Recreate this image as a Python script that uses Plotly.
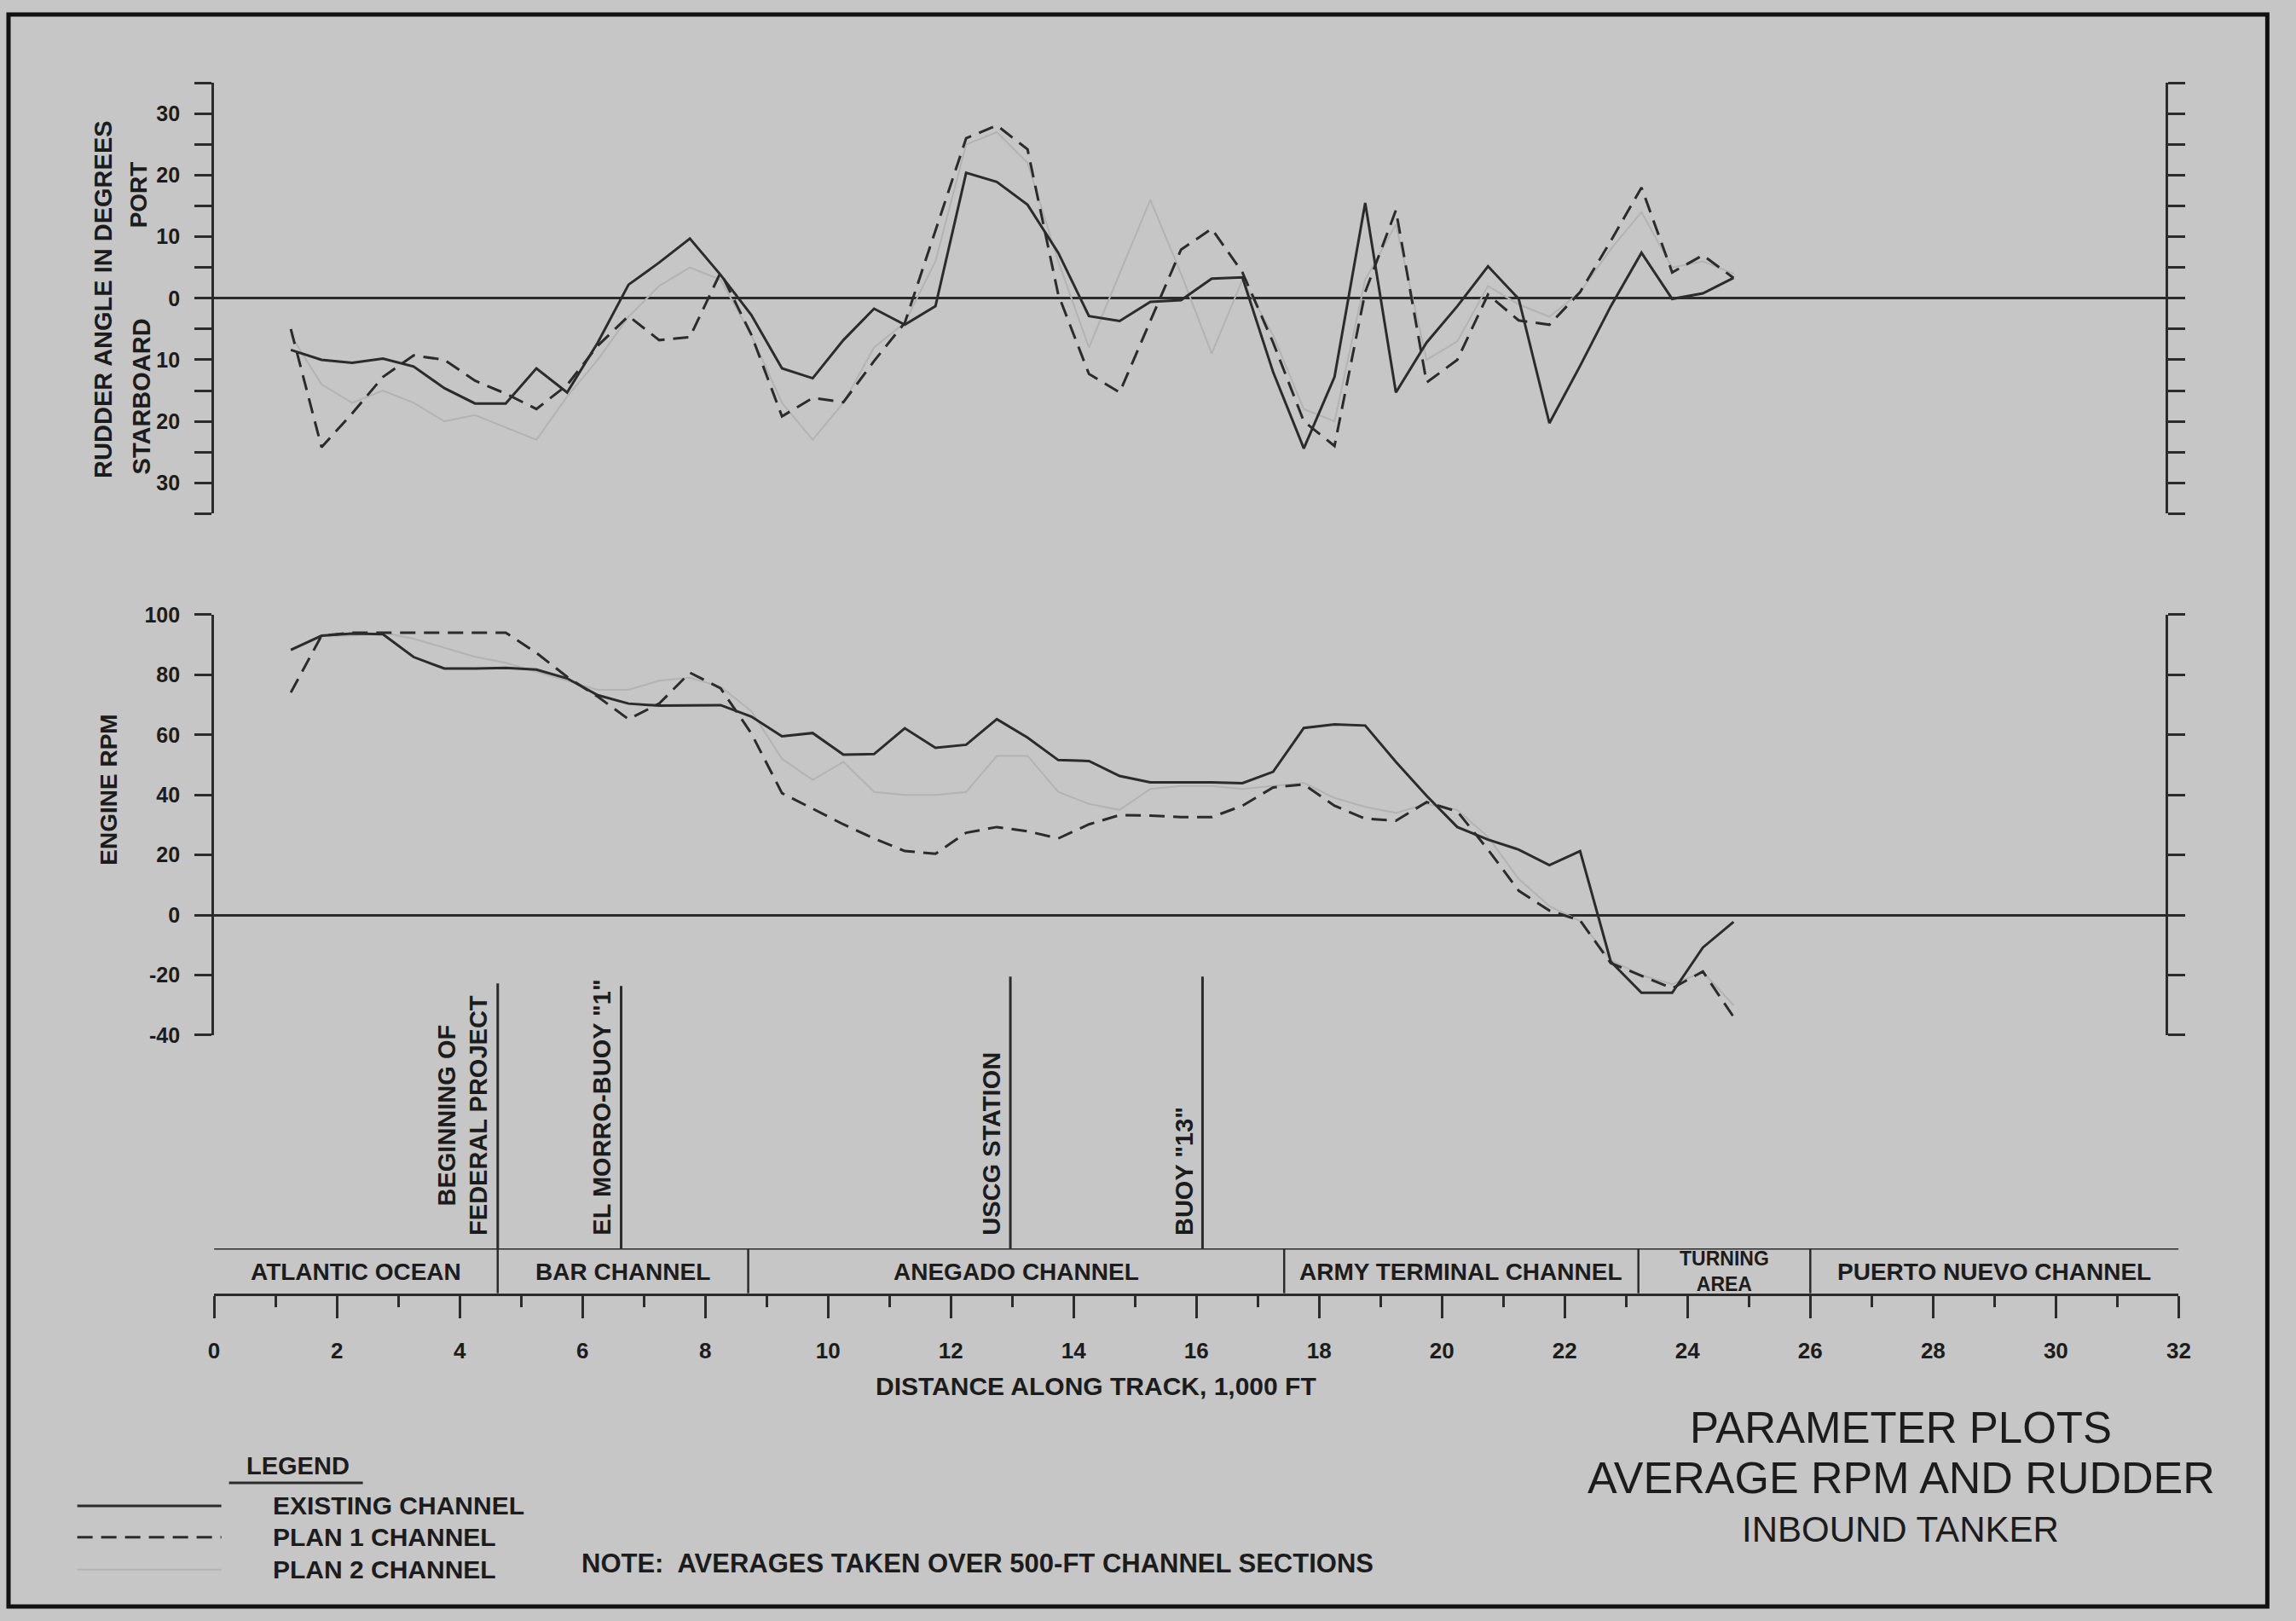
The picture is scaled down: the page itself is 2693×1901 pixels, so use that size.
import plotly.graph_objects as go

# ---------------- data ----------------
DIST = [1.25, 1.75, 2.25, 2.75, 3.25, 3.75, 4.25, 4.75, 5.25, 5.75, 6.25, 6.75,
        7.25, 7.75, 8.25, 8.75, 9.25, 9.75, 10.25, 10.75, 11.25, 11.75, 12.25, 12.75,
        13.25, 13.75, 14.25, 14.75, 15.25, 15.75, 16.25, 16.75, 17.25, 17.75, 18.25, 18.75,
        19.25, 19.75, 20.25, 20.75, 21.25, 21.75, 22.25, 22.75, 23.25, 23.75, 24.25, 24.75]

RUDDER_EXISTING = [-8.4, -10.0, -10.5, -9.8, -11.1, -14.6, -17.1, -17.1, -11.4, -15.3, -7.2, 2.2,
                   5.8, 9.7, 3.8, -2.7, -11.4, -13.0, -6.8, -1.7, -4.3, -1.3, 20.4, 18.9,
                   15.2, 7.4, -2.9, -3.7, -0.6, -0.3, 3.2, 3.4, -12.0, -24.4, -12.8, 15.5,
                   -15.3, -7.2, -1.3, 5.2, -0.1, -20.3, -11.0, -1.3, 7.4, -0.1, 0.8, 3.3]
RUDDER_PLAN1 = [-5.0, -24.2, -18.7, -12.8, -9.3, -10.0, -13.4, -15.5, -18.0, -14.1, -7.7, -2.9,
                -6.8, -6.3, 4.2, -5.9, -19.2, -16.2, -16.9, -10.2, -4.0, 11.0, 26.0, 28.1,
                24.2, 0.6, -12.3, -15.3, -3.6, 7.9, 11.3, 4.2, -7.2, -20.0, -24.0, 1.0,
                14.3, -13.7, -10.0, 0.6, -3.6, -4.3, 1.0, 9.3, 18.0, 4.2, 7.0, 3.3]
RUDDER_PLAN2 = [-6, -14, -17, -15, -17, -20, -19, -21, -23, -16, -10, -3,
                2, 5, 3, -6, -17, -23, -17, -8, -4, 6, 25, 27,
                22, 6, -8, 4, 16, 4, -9, 3, -6, -18, -20, 3,
                12, -10, -7, 2, -1, -3, 1, 8, 14, 5, 6, 4]

RPM_EXISTING = [88.3, 93.0, 93.7, 93.5, 85.9, 82.1, 82.1, 82.3, 81.7, 78.8, 73.2, 70.4,
                69.7, 69.9, 69.9, 66.1, 59.5, 60.6, 53.4, 53.6, 62.2, 55.7, 56.7, 65.2,
                59.1, 51.6, 51.3, 46.3, 44.2, 44.2, 44.2, 43.9, 47.7, 62.3, 63.5, 63.1,
                51.0, 39.7, 29.3, 25.1, 21.8, 16.6, 21.3, -15.5, -25.9, -25.9, -10.8, -2.3]
RPM_PLAN1 = [74.1, 93.0, 94.0, 94.0, 94.0, 94.0, 94.0, 94.0, 87.3, 79.3, 72.7, 65.2,
             70.4, 80.7, 75.5, 60.5, 40.6, 35.4, 30.2, 25.5, 21.3, 20.4, 27.4, 29.3,
             27.9, 25.5, 30.2, 33.3, 33.1, 32.6, 32.6, 36.4, 42.5, 43.5, 36.4, 32.1,
             31.4, 37.6, 34.5, 21.8, 8.1, 1.5, -1.8, -16.0, -20.2, -24.4, -18.8, -33.9]
RPM_PLAN2 = [88, 93, 93, 94, 92, 89, 86, 84, 81, 78, 75, 75,
             78, 79, 76, 68, 52, 45, 51, 41, 40, 40, 41, 53,
             53, 41, 37, 35, 42, 43, 43, 42, 43, 44, 39, 36,
             34, 37, 35, 26, 12, 3, -2, -15, -20, -23, -19, -30]

SERIES_NAMES = ["EXISTING CHANNEL", "PLAN 1 CHANNEL", "PLAN 2 CHANNEL"]

X_TICKS = [0, 2, 4, 6, 8, 10, 12, 14, 16, 18, 20, 22, 24, 26, 28, 30, 32]
RUDDER_TICKVALS = [-35, -30, -25, -20, -15, -10, -5, 0, 5, 10, 15, 20, 25, 30, 35]
RUDDER_TICKTEXT = ["", "30", "", "20", "", "10", "", "0", "", "10", "", "20", "", "30", ""]
RPM_TICKVALS = [-40, -20, 0, 20, 40, 60, 80, 100]
RPM_TICKTEXT = ["-40", "-20", "0", "20", "40", "60", "80", "100"]

CHANNEL_BOUNDS = [0, 4.62, 8.7, 17.43, 23.2, 26.0, 32]
CHANNEL_NAMES = ["ATLANTIC OCEAN", "BAR CHANNEL", "ANEGADO CHANNEL",
                 "ARMY TERMINAL CHANNEL", "TURNING<br>AREA", "PUERTO NUEVO CHANNEL"]
LANDMARK_X = [4.62, 6.63, 12.97, 16.1]
LANDMARK_TEXT = ["BEGINNING OF<br>FEDERAL PROJECT", 'EL MORRO-BUOY "1"', "USCG STATION", 'BUOY "13"']

# ---------------- styling ----------------
W, H = 2693, 1901
BG = "#c6c6c6"
INK = "#2b2b2b"
TXT = "#1c1c1c"
PLAN2_COL = "#b3b3b3"
BOLD = "Liberation Sans, Arial, sans-serif"
REG = "Liberation Sans, Arial, sans-serif"

# small compensation for the rendering scale observed in the page capture
SX, SY = 0.9923, 0.989


def px(x):
    f = (x - W / 2) / SX + W / 2
    return f / W


def py(y):
    f = (y - H / 2) / SY + H / 2
    return 1 - f / H


def bfont(size):
    return dict(family=BOLD, size=size, color=TXT, weight="bold")


X_L = 254.5
X_R_BAND = 2559
X_R_PANEL = 2544
PANEL_XMAX = 32 * (px(X_R_PANEL) - px(X_L)) / (px(X_R_BAND) - px(X_L))

fig = go.Figure()

styles = [dict(color=INK, width=3), dict(color=INK, width=3, dash="18px,10px"),
          dict(color=PLAN2_COL, width=2)]
rudder = [RUDDER_EXISTING, RUDDER_PLAN1, RUDDER_PLAN2]
rpm = [RPM_EXISTING, RPM_PLAN1, RPM_PLAN2]
for i in (2, 1, 0):
    fig.add_trace(go.Scatter(x=DIST, y=rudder[i], xaxis="x2", yaxis="y2", mode="lines",
                             line=styles[i], name=SERIES_NAMES[i], showlegend=False))
    fig.add_trace(go.Scatter(x=DIST, y=rpm[i], xaxis="x3", yaxis="y3", mode="lines",
                             line=styles[i], name=SERIES_NAMES[i], showlegend=False))

yaxis_common = dict(showline=True, linewidth=3, linecolor=INK, mirror="ticks",
                    ticks="outside", ticklen=20, tickwidth=3, tickcolor=INK,
                    showgrid=False, zeroline=True, zerolinewidth=3, zerolinecolor=INK,
                    tickfont=bfont(25), ticklabelstandoff=12)

fig.update_layout(
    width=W, height=H, autosize=False,
    margin=dict(l=0, r=0, t=0, b=0, pad=0),
    paper_bgcolor=BG, plot_bgcolor="rgba(0,0,0,0)",
    showlegend=False,
    xaxis=dict(domain=[px(X_L), px(X_R_BAND)], range=[0, 32], anchor="y",
               showline=True, linewidth=3, linecolor=INK,
               ticks="outside", ticklen=26, tickwidth=3, tickcolor=INK,
               tickvals=X_TICKS, ticktext=[str(v) for v in X_TICKS],
               minor=dict(ticks="outside", ticklen=13, tickwidth=3, tickcolor=INK,
                          dtick=1, tick0=0, showgrid=False),
               showgrid=False, zeroline=False, tickfont=bfont(26), ticklabelstandoff=16),
    yaxis=dict(domain=[py(1519), py(1466)], range=[0, 1], anchor="x", visible=False),
    xaxis2=dict(domain=[px(X_L), px(X_R_PANEL)], range=[0, PANEL_XMAX], anchor="y2",
                visible=False),
    yaxis2=dict(domain=[py(601), py(94)], range=[-35, 35], anchor="x2",
                tickvals=RUDDER_TICKVALS, ticktext=RUDDER_TICKTEXT, **yaxis_common),
    xaxis3=dict(domain=[px(X_L), px(X_R_PANEL)], range=[0, PANEL_XMAX], anchor="y3",
                visible=False),
    yaxis3=dict(domain=[py(1215), py(720)], range=[-40, 100], anchor="x3",
                tickvals=RPM_TICKVALS, ticktext=RPM_TICKTEXT, **yaxis_common),
)

shapes = []
ann = []

# outer border (kept inside the drawable page)
bx0, bx1 = max(px(13), 3 / W), min(px(2663), 1 - 3 / W)
by0, by1 = max(py(1896), 3 / H), min(py(10), 1 - 3 / H)
shapes.append(dict(type="rect", xref="paper", yref="paper", x0=bx0, x1=bx1,
                   y0=by0, y1=by1, line=dict(color="#111111", width=5)))

# channel band
shapes.append(dict(type="line", xref="x", yref="y", x0=0, x1=32, y0=1, y1=1,
                   line=dict(color=INK, width=3)))
for b in CHANNEL_BOUNDS[1:-1]:
    shapes.append(dict(type="line", xref="x", yref="y", x0=b, x1=b, y0=0, y1=1,
                       line=dict(color=INK, width=2.5)))
for i, name in enumerate(CHANNEL_NAMES):
    cx = (CHANNEL_BOUNDS[i] + CHANNEL_BOUNDS[i + 1]) / 2
    if "<br>" in name:
        ann.append(dict(x=cx, xref="x", y=py(1493), yref="paper", text=name, showarrow=False,
                        xanchor="center", yanchor="middle", align="center", font=bfont(23)))
    else:
        ann.append(dict(x=cx, xref="x", y=py(1494), yref="paper", text=name, showarrow=False,
                        xanchor="center", yanchor="middle", font=bfont(28)))

# landmark lines
LANDMARK_TOP = [1154, 1157, 1146, 1146]
for lx, lt, top in zip(LANDMARK_X, LANDMARK_TEXT, LANDMARK_TOP):
    shapes.append(dict(type="line", xref="x", yref="paper", x0=lx, x1=lx,
                       y0=py(1466), y1=py(top), line=dict(color=INK, width=3)))
    ann.append(dict(x=lx, xref="x", y=py(1453), yref="paper", text=lt, showarrow=False,
                    textangle=-90, xanchor="right", yanchor="bottom", xshift=-4,
                    align="center", font=bfont(29)))

# axis titles
ann.append(dict(x=px(125), y=py(349), xref="paper", yref="paper", text="RUDDER ANGLE IN DEGREES",
                textangle=-90, showarrow=False, xanchor="center", yanchor="middle", font=bfont(29)))
ann.append(dict(x=px(166), y=py(226), xref="paper", yref="paper", text="PORT",
                textangle=-90, showarrow=False, xanchor="center", yanchor="middle", font=bfont(28)))
ann.append(dict(x=px(169), y=py(463), xref="paper", yref="paper", text="STARBOARD",
                textangle=-90, showarrow=False, xanchor="center", yanchor="middle", font=bfont(29)))
ann.append(dict(x=px(130), y=py(926), xref="paper", yref="paper", text="ENGINE RPM",
                textangle=-90, showarrow=False, xanchor="center", yanchor="middle", font=bfont(28)))
ann.append(dict(x=px(1289), y=py(1628), xref="paper", yref="paper",
                text="DISTANCE ALONG TRACK, 1,000 FT", showarrow=False,
                xanchor="center", yanchor="middle", font=bfont(30)))

# legend
ann.append(dict(x=px(290), y=py(1722), xref="paper", yref="paper", text="LEGEND",
                showarrow=False, xanchor="left", yanchor="middle", font=bfont(29)))
shapes.append(dict(type="line", xref="paper", yref="paper", x0=px(272), x1=px(429),
                   y0=py(1742), y1=py(1742), line=dict(color=INK, width=3)))
LEG_Y = [1769, 1806, 1844]
for i in range(3):
    st = styles[i]
    shapes.append(dict(type="line", xref="paper", yref="paper", x0=px(94), x1=px(263),
                       y0=py(LEG_Y[i]), y1=py(LEG_Y[i]),
                       line=dict(color=st["color"], width=st["width"], dash=st.get("dash", "solid"))))
    ann.append(dict(x=px(321), y=py(LEG_Y[i]), xref="paper", yref="paper", text=SERIES_NAMES[i],
                    showarrow=False, xanchor="left", yanchor="middle", font=bfont(30)))

ann.append(dict(x=px(683), y=py(1837), xref="paper", yref="paper",
                text="NOTE:  AVERAGES TAKEN OVER 500-FT CHANNEL SECTIONS", showarrow=False,
                xanchor="left", yanchor="middle", font=bfont(31)))

# title block
ann.append(dict(x=px(2233), y=py(1677), xref="paper", yref="paper", text="PARAMETER PLOTS",
                showarrow=False, xanchor="center", yanchor="middle",
                font=dict(family=REG, size=51, color=TXT)))
ann.append(dict(x=px(2234), y=py(1736), xref="paper", yref="paper", text="AVERAGE RPM AND RUDDER",
                showarrow=False, xanchor="center", yanchor="middle",
                font=dict(family=REG, size=52, color=TXT)))
ann.append(dict(x=px(2233), y=py(1797), xref="paper", yref="paper", text="INBOUND TANKER",
                showarrow=False, xanchor="center", yanchor="middle",
                font=dict(family=REG, size=42, color=TXT)))

fig.update_layout(shapes=shapes, annotations=ann)

fig.write_html("out.html", config={"displayModeBar": False},
               post_script="document.body.style.margin='0';document.body.style.overflow='hidden';")
